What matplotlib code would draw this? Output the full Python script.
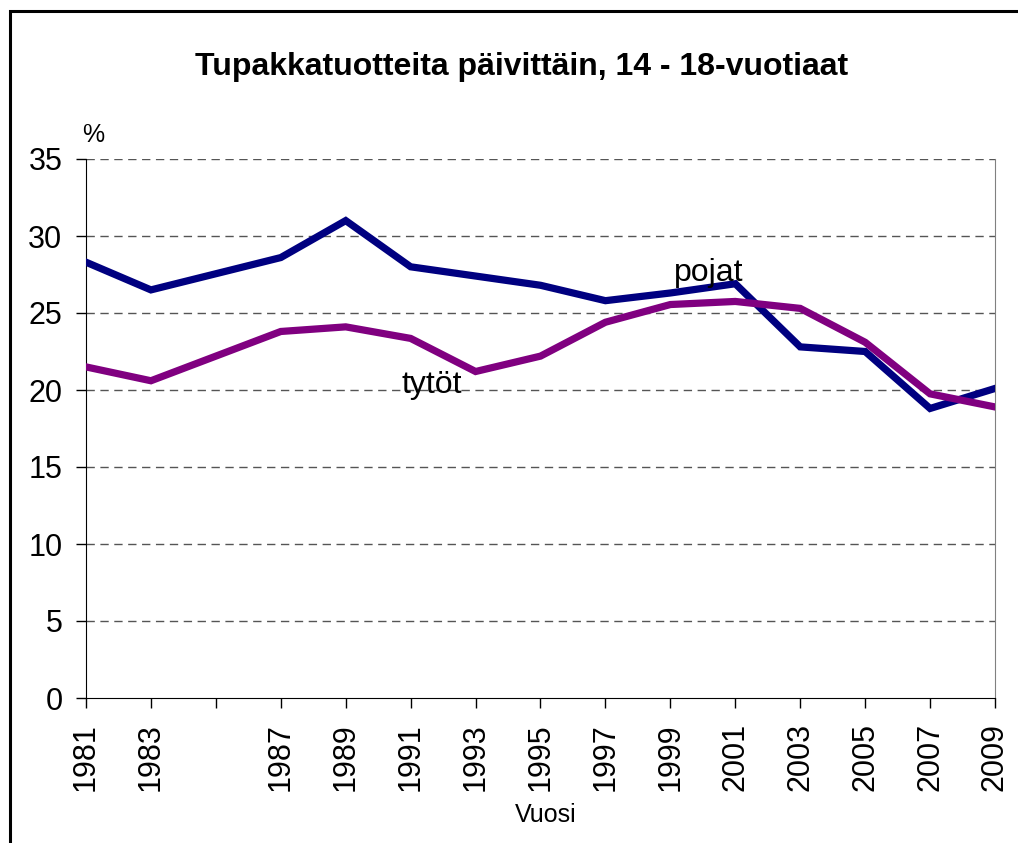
import matplotlib
matplotlib.use("Agg")
import matplotlib.pyplot as plt
from matplotlib.patches import Rectangle

plt.rcParams['font.family'] = ['Liberation Sans', 'DejaVu Sans']

# --------------------------------------------------------------------------
# Data: daily tobacco use, 14-18 year olds (%)
# --------------------------------------------------------------------------
years = [1981, 1983, 1987, 1989, 1991, 1993, 1995, 1997, 1999, 2001, 2003, 2005, 2007, 2009]
pojat = [28.3, 26.5, 28.6, 31.0, 28.0, 27.4, 26.8, 25.8, 26.3, 26.9, 22.8, 22.5, 18.8, 20.1]
tytot = [21.5, 20.6, 23.8, 24.1, 23.35, 21.2, 22.2, 24.4, 25.55, 25.75, 25.3, 23.1, 19.75, 18.9]

tick_years = list(range(1981, 2010, 2))
tick_labels = ["" if y == 1985 else str(y) for y in tick_years]
y_ticks = [0, 5, 10, 15, 20, 25, 30, 35]

W, H = 1018, 843
fig = plt.figure(figsize=(W / 100, H / 100), dpi=100)
ax = fig.add_axes([86 / W, 1 - 698 / H, (995 - 86) / W, (698 - 159) / H])

ax.plot(years, pojat, color="#000080", linewidth=5.2, solid_joinstyle="miter", zorder=3)
ax.plot(years, tytot, color="#800080", linewidth=5.2, solid_joinstyle="miter", zorder=3)

ax.set_xlim(1981, 2009)
ax.set_ylim(0, 35)
ax.set_xticks(tick_years)
ax.set_xticklabels(tick_labels, rotation=90, fontsize=22)
ax.set_yticks(y_ticks)
ax.set_yticklabels([str(v) for v in y_ticks], fontsize=22)
ax.tick_params(axis="both", direction="out", length=7, width=1, color="black")
ax.tick_params(axis="x", pad=11)
ax.tick_params(axis="y", pad=10)

for v in y_ticks[1:]:
    ax.axhline(v, color="#555555", linewidth=1, dashes=(6, 4), zorder=1)

ax.spines["top"].set_visible(False)
ax.spines["right"].set_color("#808080")
ax.spines["left"].set_color("black")
ax.spines["bottom"].set_color("black")

ax.text(2000.18, 27.6, "pojat", fontsize=23, ha="center", va="center")
ax.text(1991.64, 20.3, "tytöt", fontsize=23, ha="center", va="center")

fig.text(522 / W, 1 - 67 / H, "Tupakkatuotteita päivittäin, 14 - 18-vuotiaat",
         fontsize=23, fontweight="bold", ha="center", va="center")
fig.text(93 / W, 1 - 135 / H, "%", fontsize=18, ha="center", va="center")
fig.text(546 / W, 1 - 815 / H, "Vuosi", fontsize=18, ha="center", va="center")

fig.patches.append(Rectangle((10 / W, -0.1), 1.2, 1.1 - 11 / H, transform=fig.transFigure,
                             fill=False, edgecolor="black", linewidth=2.2))

fig.savefig("out.png", dpi=100)
